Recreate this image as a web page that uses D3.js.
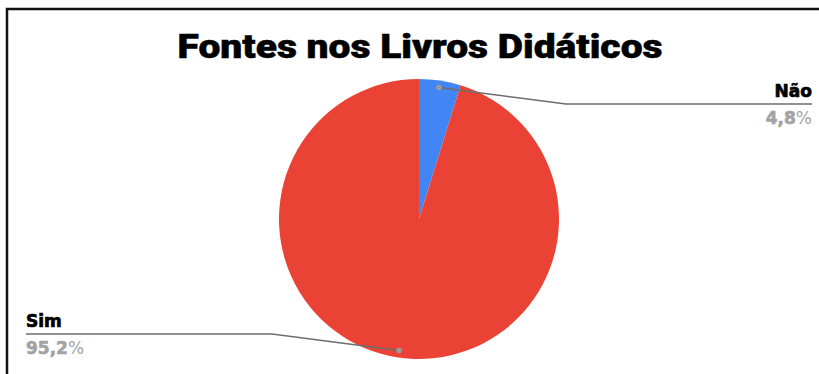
<!DOCTYPE html>
<html><head><meta charset="utf-8">
<script src="https://cdn.jsdelivr.net/npm/d3@7"></script>
<style>
html,body{margin:0;padding:0;background:#fff;}
svg{display:block;}
</style></head>
<body>
<svg id="chart" width="819" height="374"></svg>
<script>
const title = "Fontes nos Livros Didáticos";
const categories = ["Não", "Sim"];
const values = [4.8, 95.2];
const percentNumbers = ["4,8", "95,2"];
const colors = ["#4285F4", "#EA4335"];

const svg = d3.select("#chart");
const W = 819, H = 374;
const cx = 419, cy = 219, R = 140;

// frame
svg.append("path")
  .attr("d", `M7,${H} L7,9 L${W},9`)
  .attr("fill", "none").attr("stroke", "#111").attr("stroke-width", 2.5);

// title
svg.append("text")
  .attr("x", 420).attr("y", 58)
  .attr("text-anchor", "middle")
  .attr("font-family", "Roboto, 'DejaVu Sans', sans-serif")
  .attr("font-weight", 900)
  .attr("font-size", 33)
  .attr("fill", "#000")
  .attr("stroke", "#000").attr("stroke-width", 0.5)
  .attr("textLength", 485).attr("lengthAdjust", "spacingAndGlyphs")
  .text(title);

const data = categories.map((c, i) => ({cat: c, value: values[i], num: percentNumbers[i], color: colors[i]}));
const pie = d3.pie().value(d => d.value).sort(null);
const arcs = pie(data);
const arc = d3.arc().innerRadius(0).outerRadius(R);

const g = svg.append("g").attr("transform", `translate(${cx},${cy})`);
g.selectAll("path.slice").data(arcs).join("path")
  .attr("class", "slice")
  .attr("d", arc)
  .attr("fill", d => d.data.color);

// leader lines and labels
const dotArc = d3.arc().innerRadius(R * 0.95).outerRadius(R * 0.95);
arcs.forEach(a => {
  const [dx, dy] = dotArc.centroid(a);
  const mid = (a.startAngle + a.endAngle) / 2;
  const right = Math.sin(mid) >= 0;
  const s = right ? 1 : -1;
  const ex = s * 147, ey = (Math.cos(mid) > 0 ? -1 : 1) * 115;
  const endX = s * 393;
  g.append("polyline")
    .attr("points", `${dx},${dy} ${ex},${ey} ${endX},${ey}`)
    .attr("fill", "none").attr("stroke", "#6d6d6d").attr("stroke-width", 1.3);
  g.append("circle").attr("cx", dx).attr("cy", dy).attr("r", 2.8).attr("fill", "#9a9a9a");
  g.append("text")
    .attr("x", endX).attr("y", ey - 7)
    .attr("text-anchor", right ? "end" : "start")
    .attr("font-family", "'DejaVu Sans',sans-serif")
    .attr("font-weight", "bold").attr("font-size", 17)
    .attr("fill", "#000").attr("stroke","#000").attr("stroke-width",0.7)
    .text(a.data.cat);
  const pt = g.append("text")
    .attr("x", endX).attr("y", ey + 20)
    .attr("text-anchor", right ? "end" : "start")
    .attr("font-family", "'DejaVu Sans',sans-serif")
    .attr("font-size", 17)
    .attr("fill", "#a3a3a3");
  pt.append("tspan").attr("font-weight", "bold").attr("stroke", "#a3a3a3").attr("stroke-width", 0.6).text(a.data.num);
  pt.append("tspan").attr("font-weight", "normal").text("%");
});
</script>
</body></html>
